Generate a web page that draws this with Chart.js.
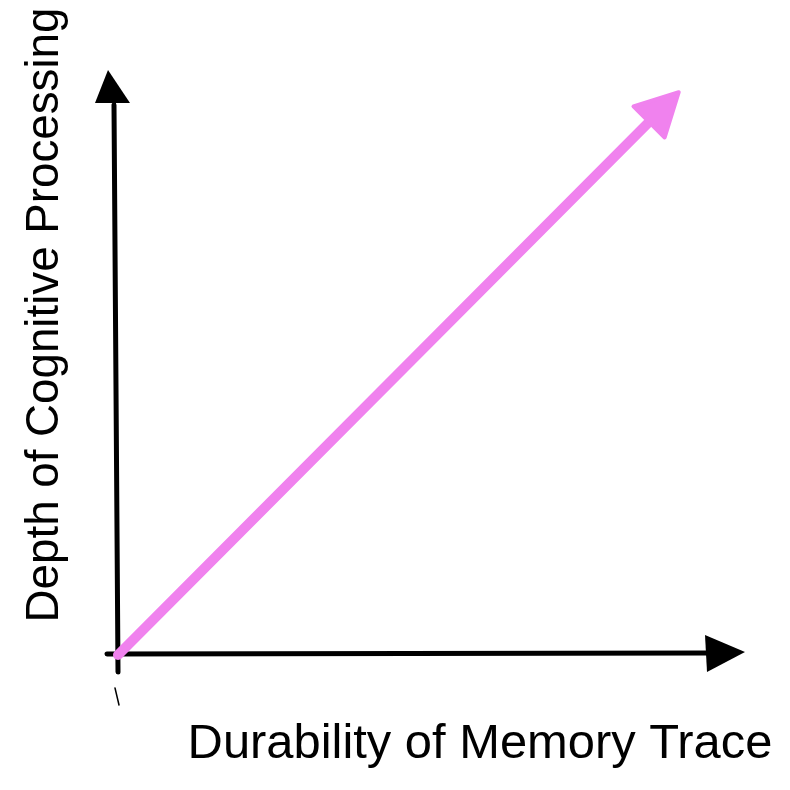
<!DOCTYPE html>
<html>
<head>
<meta charset="utf-8">
<script src="https://cdn.jsdelivr.net/npm/chart.js@4/dist/chart.umd.min.js"></script>
<style>
  html, body { margin: 0; padding: 0; background: #ffffff; }
  #wrap { width: 790px; height: 790px; }
</style>
</head>
<body>
<div id="wrap"><canvas id="depthChart"></canvas></div>
<script>
// Data
const xValues = [0, 8.47];
const yValues = [0, 9.27];
const xTitle = 'Durability of Memory Trace';
const yTitle = 'Depth of Cognitive Processing';

const pink = 'rgb(240, 130, 238)';

// draws axes with arrowheads, arrowhead on the series, and axis titles
const sketchAxes = {
  id: 'sketchAxes',
  beforeDatasetsDraw(chart) {
    const { ctx, chartArea: a } = chart;
    ctx.save();
    ctx.strokeStyle = '#000';
    ctx.fillStyle = '#000';
    ctx.lineWidth = 5;
    ctx.lineCap = 'round';

    // y axis
    ctx.beginPath();
    ctx.moveTo(a.left, a.bottom + 17);
    ctx.lineTo(a.left - 4, a.top + 25);
    ctx.stroke();
    ctx.beginPath();
    ctx.moveTo(a.left - 10, a.top - 10);
    ctx.lineTo(a.left - 23, a.top + 23);
    ctx.lineTo(a.left + 12, a.top + 23);
    ctx.closePath();
    ctx.fill();

    // x axis
    ctx.beginPath();
    ctx.moveTo(a.left - 11, a.bottom - 1);
    ctx.lineTo(a.right - 35, a.bottom - 2);
    ctx.stroke();
    ctx.beginPath();
    ctx.moveTo(a.right, a.bottom - 3);
    ctx.lineTo(a.right - 40, a.bottom - 20);
    ctx.lineTo(a.right - 38, a.bottom + 17);
    ctx.closePath();
    ctx.fill();

    // small stray mark under origin
    ctx.lineWidth = 1.5;
    ctx.beginPath();
    ctx.moveTo(a.left - 3, a.bottom + 33);
    ctx.lineTo(a.left + 1, a.bottom + 50);
    ctx.stroke();

    // titles
    ctx.font = '40px "Liberation Sans", sans-serif';
    ctx.textBaseline = 'middle';
    ctx.textAlign = 'center';
    let w = ctx.measureText(xTitle).width;
    let size = 40 * 585 / w;
    ctx.font = size + 'px "Liberation Sans", sans-serif';
    ctx.fillText(xTitle, 480, 745);

    ctx.font = '40px "Liberation Sans", sans-serif';
    w = ctx.measureText(yTitle).width;
    size = 40 * 615 / w;
    ctx.font = size + 'px "Liberation Sans", sans-serif';
    ctx.translate(45, 315);
    ctx.rotate(-Math.PI / 2);
    ctx.fillText(yTitle, 0, 0);
    ctx.restore();
  },
  afterDatasetsDraw(chart) {
    const { ctx } = chart;
    const pts = chart.getDatasetMeta(0).data;
    const p0 = pts[pts.length - 2], p1 = pts[pts.length - 1];
    const ang = Math.atan2(p1.y - p0.y, p1.x - p0.x);
    const len = 42, half = 22;
    const tipX = p1.x + Math.cos(ang) * len;
    const tipY = p1.y + Math.sin(ang) * len;
    const nx = -Math.sin(ang), ny = Math.cos(ang);
    ctx.save();
    ctx.fillStyle = pink;
    ctx.strokeStyle = pink;
    ctx.lineJoin = 'round';
    ctx.lineWidth = 4;
    ctx.beginPath();
    ctx.moveTo(tipX, tipY);
    ctx.lineTo(p1.x + nx * half, p1.y + ny * half);
    ctx.lineTo(p1.x - nx * half, p1.y - ny * half);
    ctx.closePath();
    ctx.fill();
    ctx.stroke();
    ctx.restore();
  }
};

new Chart(document.getElementById('depthChart'), {
  type: 'scatter',
  data: {
    datasets: [{
      data: xValues.map((x, i) => ({ x: x, y: yValues[i] })),
      showLine: true,
      borderColor: pink,
      borderWidth: 10,
      borderCapStyle: 'round',
      pointRadius: 0,
      clip: false
    }]
  },
  options: {
    responsive: true,
    maintainAspectRatio: false,
    animation: false,
    layout: { padding: { left: 118, right: 45, top: 80, bottom: 135 } },
    plugins: {
      legend: { display: false },
      tooltip: { enabled: false }
    },
    scales: {
      x: { type: 'linear', min: 0, max: 10, display: false },
      y: { type: 'linear', min: 0, max: 10, display: false }
    }
  },
  plugins: [sketchAxes]
});
</script>
</body>
</html>
